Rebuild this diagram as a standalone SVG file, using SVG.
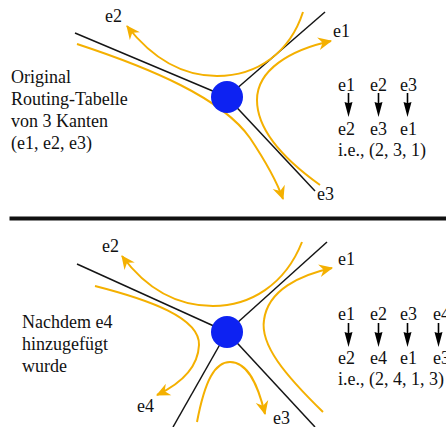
<svg xmlns="http://www.w3.org/2000/svg" xmlns:xlink="http://www.w3.org/1999/xlink" width="446" height="427" viewBox="0 0 446 427">
<style>
text{font-family:"Liberation Serif","Times New Roman",serif;font-size:18px;fill:#111}
.edge{stroke:#151515;stroke-width:1.5;fill:none}
.flow{stroke:#f4b000;stroke-width:2;fill:none;marker-end:url(#oh)}
.node{fill:#0b24f2;filter:url(#soft)}
.darr{fill:#000}
</style>
<defs>
<marker id="oh" markerUnits="userSpaceOnUse" markerWidth="16" markerHeight="16" viewBox="-13 -7 15 14" refX="0" refY="0" orient="auto">
<path d="M1,0 L-12,-6 L-8,0 L-12,6 Z" fill="#f4b000"/>
</marker>
<filter id="soft" x="-20%" y="-20%" width="140%" height="140%"><feGaussianBlur stdDeviation="0.7"/></filter>
<path id="dn" d="M-0.8,0 L0.8,0 L0.8,10 L4,9 L0,24 L-4,9 L-0.8,10 Z"/>
</defs>

<g id="connectors">
<line class="edge" x1="75" y1="33" x2="227" y2="97"/>
<line class="edge" x1="325" y1="12" x2="227" y2="97"/>
<line class="edge" x1="227" y1="97" x2="315" y2="191"/>
<path class="flow" d="M303,12 C290,52 258,76 217,76 C183,76 152,58 127,26"/>
<path class="flow" d="M77,44 C150,68 222,98 250,138 C266,162 277,182 283,199"/>
<path class="flow" d="M320,185 C285,160 257,130 257,100 C257,70 290,50 331,41"/>

<line class="edge" x1="77" y1="264" x2="227" y2="332"/>
<line class="edge" x1="327" y1="242" x2="227" y2="332"/>
<line class="edge" x1="227" y1="332" x2="173" y2="427"/>
<line class="edge" x1="227" y1="332" x2="315" y2="427"/>
<path class="flow" d="M302,242 C285,285 250,306 213,306 C175,306 145,287 122,256"/>
<path class="flow" d="M95,286 C150,300 200,318 199,345 C198,368 180,384 157,395"/>
<path class="flow" d="M197,422 C205,380 215,362 230,362 C248,362 258,385 265,414"/>
<path class="flow" d="M323,412 C285,375 260,345 264,320 C268,290 300,275 332,268"/>
</g>

<g id="node-top"><circle class="node" cx="227" cy="97" r="16"/></g>
<g id="node-bottom"><circle class="node" cx="227" cy="332" r="16"/></g>

<g id="labels-top">
<text x="105" y="22">e2</text>
<text x="333" y="37">e1</text>
<text x="317" y="200">e3</text>
</g>
<g id="caption-top">
<text x="11" y="83">Original</text>
<text x="11" y="105">Routing-Tabelle</text>
<text x="11" y="127">von 3 Kanten</text>
<text x="11" y="149">(e1, e2, e3)</text>
</g>
<g id="table-top">
<text x="338" y="91">e1</text><text x="370" y="91">e2</text><text x="400" y="91">e3</text>
<use href="#dn" class="darr" x="348.5" y="93"/>
<use href="#dn" class="darr" x="378.5" y="93"/>
<use href="#dn" class="darr" x="407.5" y="93"/>
<text x="338" y="135">e2</text><text x="370" y="135">e3</text><text x="400" y="135">e1</text>
<text x="338" y="156">i.e., (2, 3, 1)</text>
</g>

<rect id="separator" x="9.5" y="216.5" width="437" height="4" fill="#111"/>

<g id="labels-bottom">
<text x="102" y="252">e2</text>
<text x="338" y="265">e1</text>
<text x="137" y="412">e4</text>
<text x="273" y="424">e3</text>
</g>
<g id="caption-bottom">
<text x="22" y="328">Nachdem e4</text>
<text x="22" y="350">hinzugefügt</text>
<text x="22" y="372">wurde</text>
</g>
<g id="table-bottom">
<text x="338" y="320">e1</text><text x="370" y="320">e2</text><text x="400" y="320">e3</text><text x="433" y="320">e4</text>
<use href="#dn" class="darr" x="348.5" y="323"/>
<use href="#dn" class="darr" x="378.5" y="323"/>
<use href="#dn" class="darr" x="407.5" y="323"/>
<use href="#dn" class="darr" x="438.5" y="323"/>
<text x="338" y="364">e2</text><text x="370" y="364">e4</text><text x="400" y="364">e1</text><text x="433" y="364">e3</text>
<text x="338" y="385">i.e., (2, 4, 1, 3)</text>
</g>
</svg>
